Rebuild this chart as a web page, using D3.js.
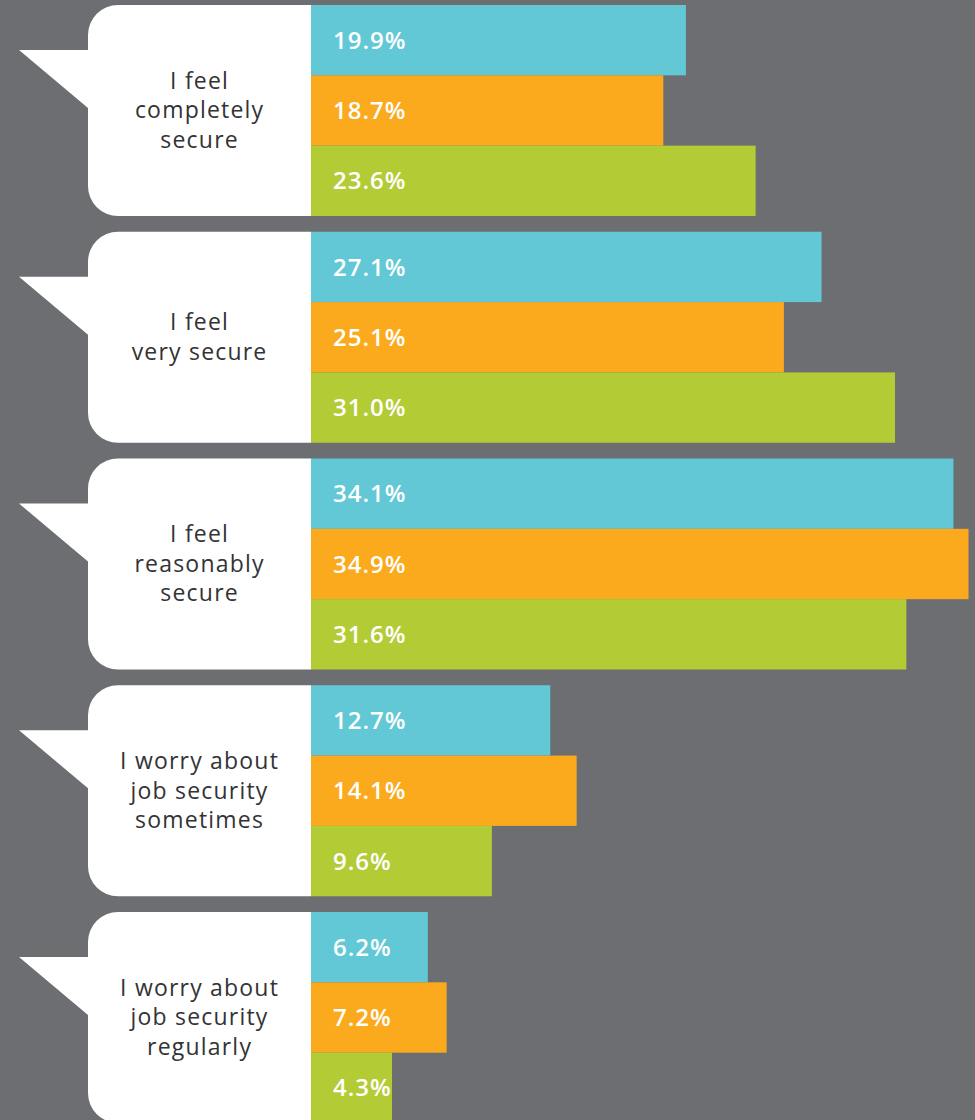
<!DOCTYPE html>
<html>
<head>
<meta charset="utf-8">
<script src="https://cdn.jsdelivr.net/npm/d3@7"></script>
<style>
  html, body { margin: 0; padding: 0; background: #6d6e72; overflow: hidden; }
  svg { display: block; }
</style>
</head>
<body>
<svg id="chart" width="975" height="1120"></svg>
<script>
// answer categories, top to bottom (lines of the bubble label)
const categories = [
  ["I feel", "completely", "secure"],
  ["I feel", "very secure"],
  ["I feel", "reasonably", "secure"],
  ["I worry about", "job security", "sometimes"],
  ["I worry about", "job security", "regularly"]
];
const seriesKeys = ["blue", "orange", "green"];
const blueValues = [19.9, 27.1, 34.1, 12.7, 6.2];
const orangeValues = [18.7, 25.1, 34.9, 14.1, 7.2];
const greenValues = [23.6, 31.0, 31.6, 9.6, 4.3];

const colors = {blue: "#62c8d6", orange: "#fbaa1e", green: "#b3cc36"};

const rows = categories.map((lines, i) => ({
  id: i,
  lines: lines,
  values: [
    {key: "blue", value: blueValues[i]},
    {key: "orange", value: orangeValues[i]},
    {key: "green", value: greenValues[i]}
  ]
}));

const svg = d3.select("#chart");
const barLeft = 311;

const x = d3.scaleLinear()
    .domain([0, 35])
    .range([barLeft, 970.4]);

const y0 = d3.scaleBand()
    .domain(rows.map(d => d.id))
    .range([5, 1123])
    .paddingInner(0.0695);

const y1 = d3.scaleBand()
    .domain(seriesKeys)
    .range([0, y0.bandwidth()]);

const fmt = v => d3.format(".1f")(v) + "%";

const group = svg.selectAll("g.row")
    .data(rows)
    .join("g")
    .attr("class", "row")
    .attr("transform", d => "translate(0," + y0(d.id) + ")");

// speech bubble: rounded on the left, square on the right, tail pointing left
const h = y0.bandwidth(), bx = 88, r = 30;
const bubblePath = "M" + (bx + r) + ",0 L" + barLeft + ",0 L" + barLeft + "," + h
    + " L" + (bx + r) + "," + h + " A" + r + "," + r + " 0 0 1 " + bx + "," + (h - r)
    + " L" + bx + ",103 L19,45 L" + bx + ",45 L" + bx + "," + r
    + " A" + r + "," + r + " 0 0 1 " + (bx + r) + ",0 Z";

group.append("path")
    .attr("d", bubblePath)
    .attr("fill", "#ffffff");

const labelSpacing = 1.2;
group.append("text")
    .attr("text-anchor", "middle")
    .attr("font-family", "'Open Sans', sans-serif")
    .attr("font-weight", 400)
    .attr("font-size", 23)
    .attr("letter-spacing", labelSpacing)
    .attr("fill", "#333335")
    .selectAll("tspan")
    .data(d => d.lines.map((t, i) => ({t: t, i: i, n: d.lines.length})))
    .join("tspan")
    .attr("x", 199 + labelSpacing / 2)
    .attr("y", d => h / 2 + 8 + (d.i - (d.n - 1) / 2) * 29.5)
    .text(d => d.t);

group.selectAll("rect.bar")
    .data(d => d.values)
    .join("rect")
    .attr("class", "bar")
    .attr("x", x(0))
    .attr("y", d => y1(d.key))
    .attr("width", d => x(d.value) - x(0))
    .attr("height", y1.bandwidth())
    .attr("fill", d => colors[d.key]);

group.selectAll("text.val")
    .data(d => d.values)
    .join("text")
    .attr("class", "val")
    .attr("x", x(0) + 22)
    .attr("y", d => y1(d.key) + y1.bandwidth() / 2)
    .attr("dy", "0.36em")
    .attr("font-family", "'Open Sans', sans-serif")
    .attr("font-weight", 600)
    .attr("font-size", 24)
    .attr("letter-spacing", 1)
    .attr("fill", "#ffffff")
    .text(d => fmt(d.value));
</script>
</body>
</html>
